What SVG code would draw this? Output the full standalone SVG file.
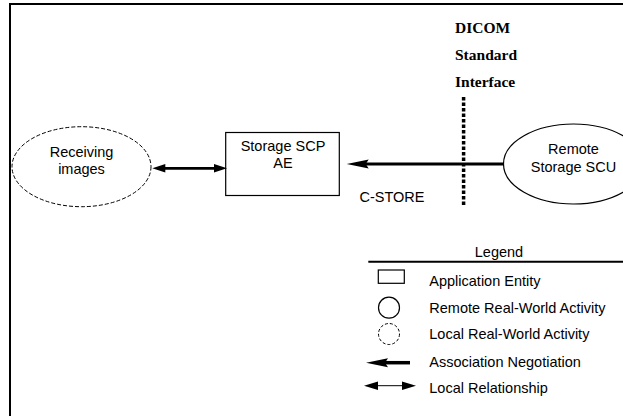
<svg xmlns="http://www.w3.org/2000/svg" width="623" height="416" viewBox="0 0 623 416">
<style>
.t{font-family:"Liberation Sans",Arial,sans-serif;font-size:14.5px;fill:#000}
.c{text-anchor:middle}
.s{font-family:"Liberation Serif","Times New Roman",serif;font-size:15.5px;font-weight:bold;fill:#000}
.solid{fill:#fff;stroke:#000;stroke-width:1.2}
.dash{fill:#fff;stroke:#000;stroke-width:1;stroke-dasharray:4 2}
</style>
<defs>
<marker id="neg" markerUnits="userSpaceOnUse" refX="6" refY="0" markerWidth="22" markerHeight="10" orient="auto" overflow="visible"><path d="M0,-4.5 L22,0 L0,4.5 L3,0 Z" fill="#000"/></marker>
<marker id="rel" markerUnits="userSpaceOnUse" refX="6" refY="0" markerWidth="13" markerHeight="9" orient="auto-start-reverse" overflow="visible"><path d="M0,-4.3 L13,0 L0,4.3 Z" fill="#000"/></marker>
<marker id="rel2" markerUnits="userSpaceOnUse" refX="6" refY="0" markerWidth="14" markerHeight="9" orient="auto-start-reverse" overflow="visible"><path d="M0,-4.2 L14,0 L0,4.2 Z" fill="#000"/></marker>
</defs>
<rect width="623" height="416" fill="#fff"/>
<rect x="10" y="4" width="640" height="430" fill="none" stroke="#000" stroke-width="2"/>
<g id="interface">
<text class="s" x="455" y="33">DICOM</text>
<text class="s" x="455" y="59.5">Standard</text>
<text class="s" x="455" y="87">Interface</text>
<line x1="463.6" y1="97" x2="463.6" y2="207" stroke="#000" stroke-width="3.5" stroke-dasharray="3.5 2"/>
</g>
<g id="receiving">
<ellipse class="dash" cx="81.5" cy="166.7" rx="69.5" ry="40"/>
<text class="t c" x="81.5" y="157.3">Receiving</text>
<text class="t c" x="81.5" y="173.5">images</text>
</g>
<g id="scp">
<rect class="solid" x="225.7" y="132.5" width="113.6" height="63" stroke-width="1.3"/>
<text class="t c" x="283" y="151">Storage SCP</text>
<text class="t c" x="283" y="167.5">AE</text>
</g>
<g id="remote">
<ellipse class="solid" cx="573.5" cy="164" rx="70" ry="40" stroke-width="1"/>
<text class="t c" x="573.5" y="154">Remote</text>
<text class="t c" x="573.5" y="171.5">Storage SCU</text>
</g>
<g id="connectors">
<line x1="159.3" y1="168.3" x2="220" y2="168.3" stroke="#000" stroke-width="2.7" marker-start="url(#rel)" marker-end="url(#rel)"/>
<line x1="503.5" y1="164" x2="362.7" y2="164" stroke="#000" stroke-width="3" marker-end="url(#neg)"/>
<text class="t" x="359.5" y="201.5">C-STORE</text>
</g>
<g id="legend">
<text class="t c" x="499" y="256.7">Legend</text>
<line x1="368.3" y1="261.7" x2="623" y2="261.7" stroke="#000" stroke-width="2"/>
<rect class="solid" x="378.3" y="270" width="26" height="13.3" stroke-width="1.2"/>
<circle class="solid" cx="389" cy="307.7" r="10.5" stroke-width="1"/>
<circle class="dash" cx="389" cy="334" r="10.5" style="stroke-dasharray:3 2"/>
<line x1="410" y1="362.7" x2="382" y2="362.7" stroke="#000" stroke-width="3.5" marker-end="url(#neg)"/>
<line x1="372" y1="385.7" x2="408" y2="385.7" stroke="#000" stroke-width="1" marker-start="url(#rel2)" marker-end="url(#rel2)"/>
<text class="t" x="429.3" y="286">Application Entity</text>
<text class="t" x="429.3" y="312.7">Remote Real-World Activity</text>
<text class="t" x="429.3" y="339.3">Local Real-World Activity</text>
<text class="t" x="429.3" y="366.7">Association Negotiation</text>
<text class="t" x="429.3" y="393.3">Local Relationship</text>
</g>
</svg>
